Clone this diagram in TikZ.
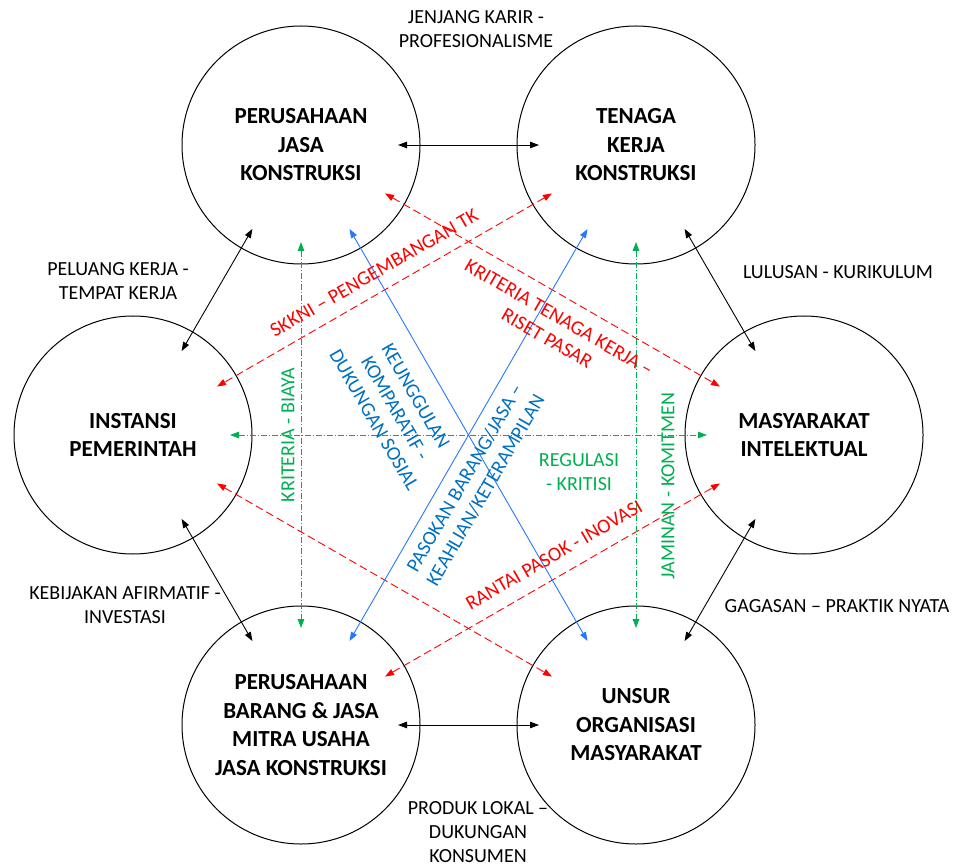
\documentclass[tikz,border=0pt]{standalone}
\usepackage{fontspec}
\setmainfont{Carlito}
\usetikzlibrary{arrows.meta}
\definecolor{myred}{RGB}{255,0,0}
\definecolor{myblue}{RGB}{0,112,192}
\definecolor{lineblue}{RGB}{40,120,255}
\definecolor{mygreen}{RGB}{0,176,80}
\begin{document}
\begin{tikzpicture}[x=1pt,y=-1pt,
  ent/.style={circle,draw,line width=1pt,minimum size=238pt,inner sep=0pt,align=center,
    font=\fontsize{23}{28.5}\selectfont\bfseries},
  lbl/.style={align=center,inner sep=0pt,font=\fontsize{20}{24}\selectfont},
  tipboth/.style={{Triangle[length=9pt,width=6.5pt]}-{Triangle[length=9pt,width=6.5pt]},
    shorten <=97pt, shorten >=97pt},
  blk/.style={tipboth, line width=0.9pt, black},
  reddash/.style={tipboth, line width=0.9pt, myred, dash pattern=on 8pt off 4pt},
  blueline/.style={tipboth, line width=0.9pt, lineblue},
  greendash/.style={tipboth, line width=0.9pt, mygreen, dash pattern=on 6pt off 2pt on 1pt off 2pt}
]
\useasboundingbox (0,0) rectangle (958,866);

% entities
\node[ent] (tl) at (301,145) {PERUSAHAAN\\JASA\\KONSTRUKSI};
\node[ent] (tr) at (636,145) {TENAGA\\KERJA\\KONSTRUKSI};
\node[ent] (l)  at (133,435) {INSTANSI\\PEMERINTAH};
\node[ent] (r)  at (804,435) {MASYARAKAT\\INTELEKTUAL};
\node[ent] (bl) at (301,725) {PERUSAHAAN\\BARANG \& JASA\\MITRA USAHA\\JASA KONSTRUKSI};
\node[ent] (br) at (636,725) {UNSUR\\ORGANISASI\\MASYARAKAT};

% black connectors
\draw[blk] (tl.center) -- (tr.center);
\draw[blk] (tl.center) -- (l.center);
\draw[blk] (tr.center) -- (r.center);
\draw[blk] (l.center) -- (bl.center);
\draw[blk] (r.center) -- (br.center);
\draw[blk] (bl.center) -- (br.center);

% red dashed connectors
\draw[reddash] (tr.center) -- (l.center);
\draw[reddash] (tl.center) -- (r.center);
\draw[reddash] (l.center) -- (br.center);
\draw[reddash] (bl.center) -- (r.center);

% blue connectors
\draw[blueline] (tl.center) -- (br.center);
\draw[blueline] (tr.center) -- (bl.center);

% green dash-dot connectors
\draw[greendash] (tl.center) -- (bl.center);
\draw[greendash] (tr.center) -- (br.center);
\draw[greendash] (l.center) -- (r.center);

% outer labels
\node[lbl] (jk) at (476,29) {JENJANG KARIR -\\PROFESIONALISME};
\node[lbl] (pk) at (118,281) {PELUANG KERJA -\\TEMPAT KERJA};
\node[lbl] (lk) at (838,272) {LULUSAN - KURIKULUM};
\node[lbl] (ka) at (125,605) {KEBIJAKAN AFIRMATIF -\\INVESTASI};
\node[lbl] (gp) at (837,606) {GAGASAN – PRAKTIK NYATA};
\node[lbl] (pl) at (478,832) {PRODUK LOKAL –\\DUKUNGAN\\KONSUMEN};

% inner labels
\node[lbl, text=myred, rotate=30] (sk) at (374,273) {SKKNI – PENGEMBANGAN TK};
\node[lbl, text=myred, rotate=-30] (kt) at (553,328) {KRITERIA TENAGA KERJA –\\RISET PASAR};
\node[lbl, text=myblue, rotate=-60] (ku) at (395,408) {KEUNGGULAN\\KOMPARATIF -\\DUKUNGAN SOSIAL};
\node[lbl, text=myblue, rotate=60] (pb) at (475,484) {PASOKAN BARANG/JASA –\\KEAHLIAN/KETERAMPILAN};
\node[lbl, text=mygreen, rotate=90] (kb) at (288,435) {KRITERIA - BIAYA};
\node[lbl, text=mygreen, rotate=90] (jm) at (668,486) {JAMINAN - KOMITMEN};
\node[lbl, text=mygreen] (rg) at (579,472) {REGULASI\\- KRITISI};
\node[lbl, text=myred, rotate=30] (rp) at (554,555) {RANTAI PASOK - INOVASI};
\end{tikzpicture}
\end{document}
